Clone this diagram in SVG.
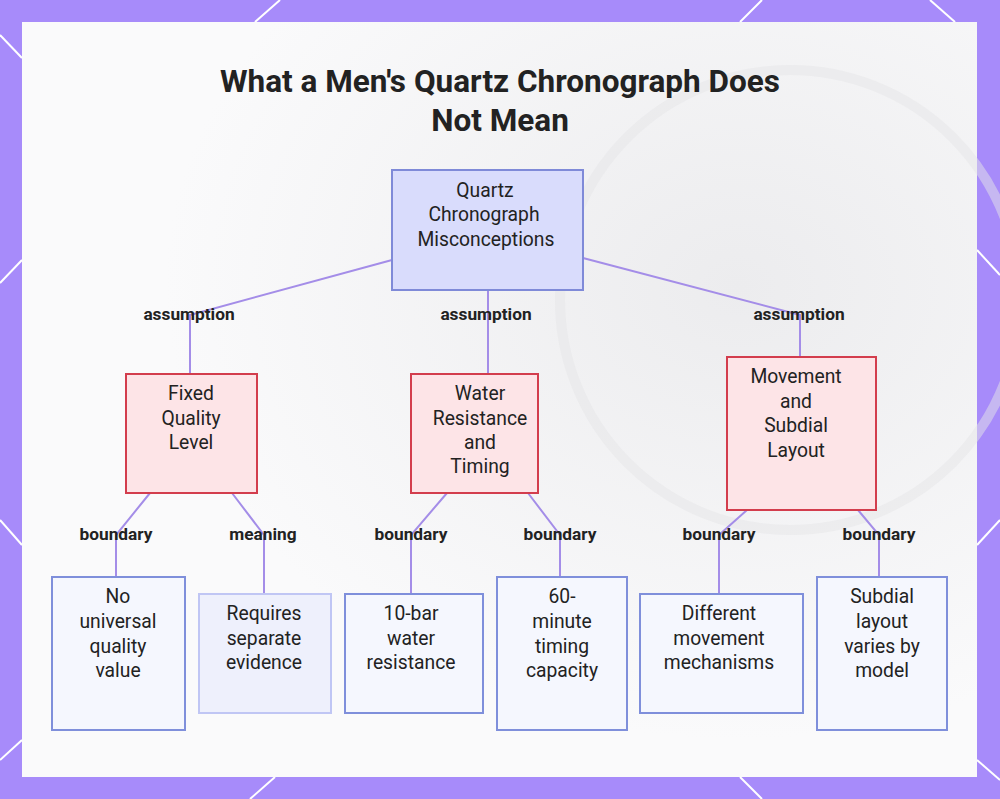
<svg xmlns="http://www.w3.org/2000/svg" width="1000" height="799" viewBox="0 0 1000 799">
<defs>
<radialGradient id="bg" cx="0.75" cy="0.35" r="0.6"><stop offset="0" stop-color="#ececee"/><stop offset="1" stop-color="#fafafb"/></radialGradient>
</defs>
<style>
text{font-family:Roboto,"Liberation Sans",sans-serif;fill:#222;text-anchor:middle}
.t{font-size:31.5px;font-weight:bold}
.n{font-size:19.3px}
.l{font-size:17.3px;font-weight:bold}
.root{fill:#d9dcfc;stroke:#7f8ad8;stroke-width:2}
.mid{fill:#fde4e7;stroke:#d33d4d;stroke-width:2}
.leaf{fill:#f5f7fe;stroke:#7f8fdb;stroke-width:2}
.soft{fill:#eef0fc;stroke:#c0c6f4;stroke-width:2}
.e{fill:none;stroke:#a48de8;stroke-width:2}
.d{stroke:#fff;stroke-width:2}
</style>
<rect width="1000" height="799" fill="#a78bfa"/>
<g class="d"><line x1="0" y1="35" x2="22" y2="58"/><line x1="255" y1="22" x2="280" y2="0"/><line x1="740" y1="22" x2="762" y2="0"/><line x1="930" y1="0" x2="955" y2="22"/><line x1="0" y1="283" x2="22" y2="260"/><line x1="977" y1="250" x2="1000" y2="275"/><line x1="0" y1="520" x2="22" y2="545"/><line x1="977" y1="545" x2="1000" y2="520"/><line x1="0" y1="760" x2="22" y2="740"/><line x1="250" y1="799" x2="275" y2="777"/><line x1="740" y1="777" x2="762" y2="799"/><line x1="977" y1="760" x2="1000" y2="780"/></g>
<rect x="22" y="22" width="955" height="755" fill="url(#bg)"/>
<circle cx="790" cy="300" r="230" fill="none" stroke="#e6e6e8" stroke-width="10" opacity="0.5"/>
<text class="t" x="500" y="92">What a Men's Quartz Chronograph Does</text>
<text class="t" x="500" y="131">Not Mean</text>
<g id="connectors">
<path class="e" d="M392,260 L190,315 L190,374"/>
<path class="e" d="M488,290 L488,374"/>
<path class="e" d="M583,258 L800,315 L800,357"/>
<path class="e" d="M150,493 L116,535 L116,577"/>
<path class="e" d="M232,493 L264,535 L264,594"/>
<path class="e" d="M447,493 L411,535 L411,594"/>
<path class="e" d="M528,493 L560,535 L560,577"/>
<path class="e" d="M747,510 L719,535 L719,594"/>
<path class="e" d="M858,510 L879,535 L879,577"/>
<g class="l"><text x="189" y="320">assumption</text><text x="486" y="320">assumption</text><text x="799" y="320">assumption</text>
<text x="116" y="540">boundary</text><text x="263" y="540">meaning</text><text x="411" y="540">boundary</text><text x="560" y="540">boundary</text><text x="719" y="540">boundary</text><text x="879" y="540">boundary</text></g>
</g>
<g id="root"><rect class="root" x="392" y="170" width="191" height="120"/><text class="n" x="485" y="197">Quartz</text><text class="n" x="484" y="221">Chronograph</text><text class="n" x="486" y="246">Misconceptions</text></g>
<g id="fixed"><rect class="mid" x="126" y="374" width="131" height="119"/><text class="n" x="191" y="400">Fixed</text><text class="n" x="191" y="425">Quality</text><text class="n" x="191" y="449">Level</text></g>
<g id="water"><rect class="mid" x="411" y="374" width="127" height="119"/><text class="n" x="480" y="400">Water</text><text class="n" x="480" y="425">Resistance</text><text class="n" x="480" y="449">and</text><text class="n" x="480" y="473">Timing</text></g>
<g id="movement"><rect class="mid" x="727" y="357" width="149" height="153"/><text class="n" x="796" y="383">Movement</text><text class="n" x="796" y="408">and</text><text class="n" x="796" y="432">Subdial</text><text class="n" x="796" y="457">Layout</text></g>
<g id="l1"><rect class="leaf" x="52" y="577" width="133" height="153"/><text class="n" x="118" y="603">No</text><text class="n" x="118" y="628">universal</text><text class="n" x="118" y="653">quality</text><text class="n" x="118" y="677">value</text></g>
<g id="l2"><rect class="soft" x="199" y="594" width="132" height="119"/><text class="n" x="264" y="620">Requires</text><text class="n" x="264" y="645">separate</text><text class="n" x="264" y="669">evidence</text></g>
<g id="l3"><rect class="leaf" x="345" y="594" width="138" height="119"/><text class="n" x="411" y="620">10-bar</text><text class="n" x="411" y="645">water</text><text class="n" x="411" y="669">resistance</text></g>
<g id="l4"><rect class="leaf" x="497" y="577" width="130" height="153"/><text class="n" x="562" y="603">60-</text><text class="n" x="562" y="628">minute</text><text class="n" x="562" y="653">timing</text><text class="n" x="562" y="677">capacity</text></g>
<g id="l5"><rect class="leaf" x="640" y="594" width="163" height="119"/><text class="n" x="719" y="620">Different</text><text class="n" x="719" y="645">movement</text><text class="n" x="719" y="669">mechanisms</text></g>
<g id="l6"><rect class="leaf" x="817" y="577" width="130" height="153"/><text class="n" x="882" y="603">Subdial</text><text class="n" x="882" y="628">layout</text><text class="n" x="882" y="653">varies by</text><text class="n" x="882" y="677">model</text></g>
</svg>
